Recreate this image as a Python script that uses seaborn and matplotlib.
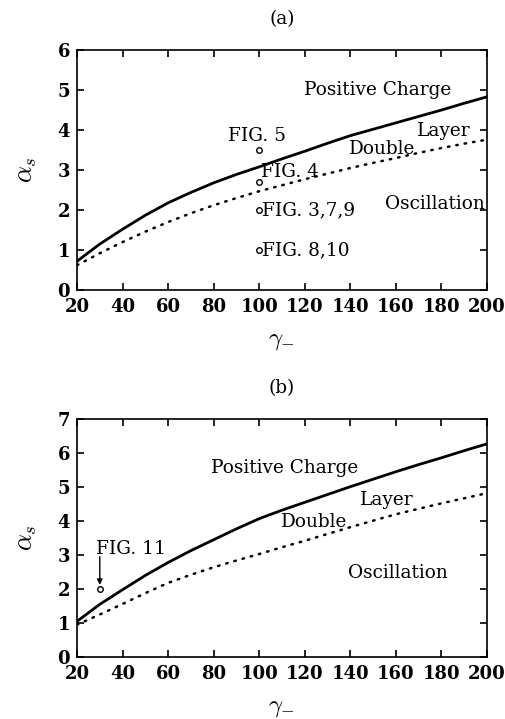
import numpy as np
import pandas as pd
import matplotlib
matplotlib.use("Agg")
import matplotlib.pyplot as plt
import seaborn as sns

# Phase boundaries alpha_s(gamma_-) for the two parameter sets
gamma = [20, 30, 40, 50, 60, 70, 80, 90, 100, 110, 120, 130, 140, 150, 160,
         170, 180, 190, 200]

a_solid = [0.72, 1.15, 1.52, 1.87, 2.18, 2.44, 2.68, 2.89, 3.08, 3.28, 3.47,
           3.67, 3.86, 4.02, 4.18, 4.34, 4.50, 4.67, 4.83]
a_dotted = [0.62, 0.92, 1.20, 1.46, 1.70, 1.92, 2.12, 2.30, 2.47, 2.62, 2.77,
            2.91, 3.05, 3.18, 3.30, 3.43, 3.55, 3.66, 3.76]

b_solid = [1.05, 1.55, 1.98, 2.40, 2.78, 3.13, 3.45, 3.77, 4.07, 4.32, 4.55,
           4.78, 5.01, 5.23, 5.45, 5.66, 5.86, 6.07, 6.27]
b_dotted = [0.95, 1.25, 1.56, 1.88, 2.18, 2.42, 2.64, 2.84, 3.03, 3.23, 3.42,
            3.62, 3.82, 4.01, 4.20, 4.36, 4.52, 4.67, 4.82]

# Simulation runs marked on the diagrams
a_runs_gamma = [100, 100, 100, 100]
a_runs_alpha = [3.5, 2.7, 2.0, 1.0]
b_runs_gamma = [30]
b_runs_alpha = [2.0]

x_ticks = [20, 40, 60, 80, 100, 120, 140, 160, 180, 200]

sns.set_style("ticks")
plt.rcParams["font.family"] = ["DejaVu Serif"]
plt.rcParams["mathtext.fontset"] = "cm"
plt.rcParams["axes.linewidth"] = 1.2
for key in ("text.color", "axes.labelcolor", "xtick.color", "ytick.color",
            "axes.edgecolor"):
    plt.rcParams[key] = "black"

fig = plt.figure(figsize=(5.05, 7.19), dpi=100)
ax_a = fig.add_axes([0.1525, 0.5966, 0.8119, 0.3338])
ax_b = fig.add_axes([0.1525, 0.0862, 0.8119, 0.3310])

tick_fs = 13
text_fs = 13.3


def draw_panel(ax, solid, dotted, rx, ry, ymax, title):
    df = pd.DataFrame({"gamma": gamma, "solid": solid, "dotted": dotted})
    sns.lineplot(data=df, x="gamma", y="solid", ax=ax, color="black",
                 linewidth=2.0, solid_capstyle="butt")
    sns.lineplot(data=df, x="gamma", y="dotted", ax=ax, color="black",
                 linewidth=1.8, linestyle=(0, (0.6, 2.8)),
                 dash_capstyle="round")
    sns.scatterplot(x=rx, y=ry, ax=ax, marker="o", s=16,
                    facecolor="white", edgecolor="black", linewidth=1.0,
                    zorder=5)
    ax.set_xlim(20, 200)
    ax.set_ylim(0, ymax)
    ax.set_xticks(x_ticks)
    ax.set_yticks(range(0, ymax + 1))
    ax.tick_params(direction="in", top=True, right=True, length=5,
                   width=1.2, labelsize=tick_fs)
    ax.tick_params(axis="x", pad=6)
    ax.tick_params(axis="y", pad=5)
    for lab in ax.get_xticklabels() + ax.get_yticklabels():
        lab.set_fontweight("bold")
    ax.set_xlabel(r"$\gamma_{-}$", fontsize=18, labelpad=9)
    ax.set_ylabel(r"$\alpha_s$", fontsize=19, labelpad=13)
    ax.set_title(title, fontsize=text_fs, pad=19)


draw_panel(ax_a, a_solid, a_dotted, a_runs_gamma, a_runs_alpha, 6, "(a)")
draw_panel(ax_b, b_solid, b_dotted, b_runs_gamma, b_runs_alpha, 7, "(b)")

# Region labels, panel (a)
ax_a.text(152, 5.0, "Positive Charge", ha="center", va="center", fontsize=text_fs)
ax_a.text(181, 3.97, "Layer", ha="center", va="center", fontsize=text_fs)
ax_a.text(154, 3.52, "Double", ha="center", va="center", fontsize=text_fs)
ax_a.text(177, 2.14, "Oscillation", ha="center", va="center", fontsize=text_fs)
ax_a.text(99, 3.86, "FIG. 5", ha="center", va="center", fontsize=text_fs)
ax_a.text(100.6, 2.96, "FIG. 4", ha="left", va="center", fontsize=text_fs)
ax_a.text(101.2, 2.0, "FIG. 3,7,9", ha="left", va="center", fontsize=text_fs)
ax_a.text(101.2, 1.0, "FIG. 8,10", ha="left", va="center", fontsize=text_fs)

# Region labels, panel (b)
ax_b.text(111, 5.56, "Positive Charge", ha="center", va="center", fontsize=text_fs)
ax_b.text(156, 4.62, "Layer", ha="center", va="center", fontsize=text_fs)
ax_b.text(124, 3.98, "Double", ha="center", va="center", fontsize=text_fs)
ax_b.text(161, 2.46, "Oscillation", ha="center", va="center", fontsize=text_fs)
ax_b.text(28.4, 3.17, "FIG. 11", ha="left", va="center", fontsize=text_fs)
ax_b.annotate("", xy=(30, 2.12), xytext=(30, 2.95),
              arrowprops=dict(arrowstyle="-|>", color="black", lw=1.0,
                              mutation_scale=8, shrinkA=0, shrinkB=0))

fig.savefig("out.png", dpi=100, facecolor="white")
